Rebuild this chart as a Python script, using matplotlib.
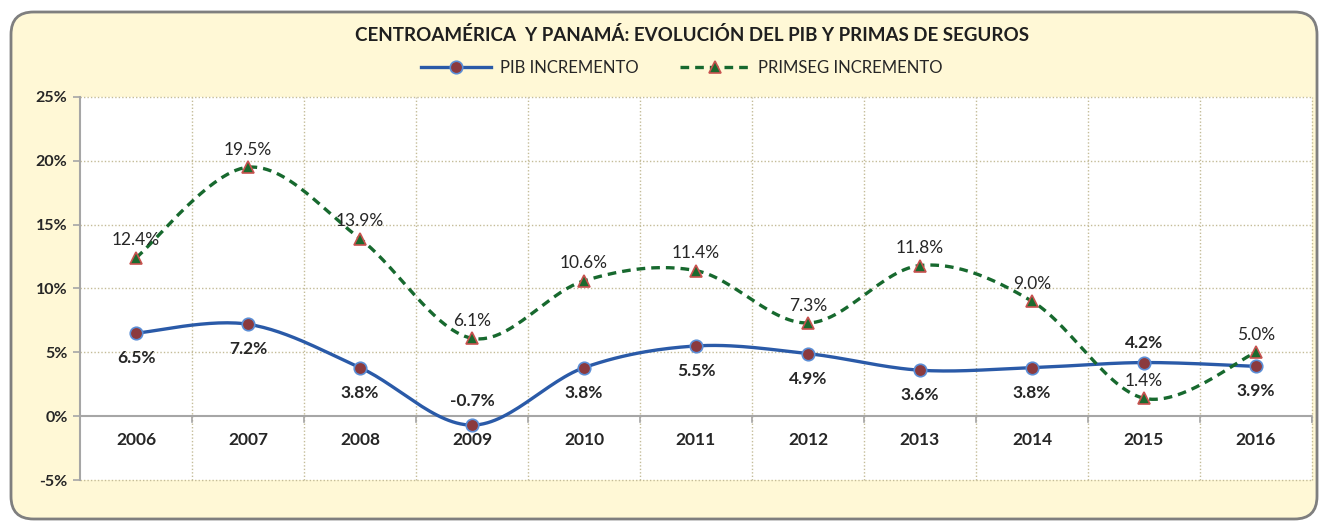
import numpy as np
import matplotlib
matplotlib.use("Agg")
import matplotlib.pyplot as plt
from matplotlib.patches import FancyBboxPatch
from matplotlib.lines import Line2D

plt.rcParams['font.family'] = ['Lato', 'DejaVu Sans']

years = ["2006", "2007", "2008", "2009", "2010", "2011", "2012", "2013", "2014", "2015", "2016"]
pib = [6.5, 7.2, 3.8, -0.7, 3.8, 5.5, 4.9, 3.6, 3.8, 4.2, 3.9]
primseg = [12.4, 19.5, 13.9, 6.1, 10.6, 11.4, 7.3, 11.8, 9.0, 1.4, 5.0]
yticks = [-5, 0, 5, 10, 15, 20, 25]
title = "CENTROAMÉRICA  Y PANAMÁ: EVOLUCIÓN DEL PIB Y PRIMAS DE SEGUROS"


def smooth(xs, ys, n=30):
    xs = np.asarray(xs, float)
    ys = np.asarray(ys, float)
    P = np.column_stack([xs, ys])
    Pext = np.vstack([P[0], P, P[-1]])
    out = []
    for i in range(len(P) - 1):
        p0, p1, p2, p3 = Pext[i], Pext[i + 1], Pext[i + 2], Pext[i + 3]
        c1 = p1 + (p2 - p0) / 6.0
        c2 = p2 - (p3 - p1) / 6.0
        t = np.linspace(0, 1, n)[:, None]
        seg = ((1 - t) ** 3) * p1 + 3 * ((1 - t) ** 2) * t * c1 + 3 * (1 - t) * t ** 2 * c2 + t ** 3 * p2
        out.append(seg if i == 0 else seg[1:])
    s = np.vstack(out)
    return s[:, 0], s[:, 1]


fig = plt.figure(figsize=(13.25, 5.23), dpi=100)
fig.patch.set_facecolor("white")
box = FancyBboxPatch((11 / 1325, 4 / 523), 1306 / 1325, 507 / 523,
                     boxstyle="round,pad=0,rounding_size=0.017",
                     transform=fig.transFigure, facecolor="#FFF8D6",
                     edgecolor="#7F7F7F", linewidth=2.0, zorder=-10,
                     mutation_aspect=1325 / 523)
fig.patches.append(box)

ax = fig.add_axes([80 / 1325, 1 - 480 / 523, 1232 / 1325, 383 / 523])
ax.set_zorder(5)
ax.set_facecolor("white")
x = np.arange(len(years))
ax.set_xlim(-0.5, len(years) - 0.5)
ax.set_ylim(-5, 25)

grid_c = "#C4BC98"
for yv in yticks:
    if yv != 0:
        ax.axhline(yv, color=grid_c, linestyle=(0, (1, 1.5)), linewidth=1.0, zorder=1, clip_on=False)
for xv in np.arange(-0.5, len(years) + 0.5, 1.0)[1:]:
    ax.axvline(xv, color=grid_c, linestyle=(0, (1, 1.5)), linewidth=1.0, zorder=1, clip_on=False)

ax.axhline(0, color="#A6A6A6", linewidth=1.5, zorder=2)
for xv in np.arange(0.5, len(years), 1.0):
    ax.plot([xv, xv], [0, -0.45], color="#A6A6A6", linewidth=1.2, zorder=2)
ax.plot([len(years) - 0.5] * 2, [0, -0.45], color="#A6A6A6", linewidth=1.2, zorder=2, clip_on=False)

for s in ["top", "right", "bottom"]:
    ax.spines[s].set_visible(False)
ax.spines["left"].set_color("#A6A6A6")
ax.spines["left"].set_linewidth(1.5)
ax.set_xticks([])
ax.set_yticks(yticks)
ax.set_yticklabels([f"{v}%" for v in yticks], fontsize=11.5, fontweight="bold", color="#262626")
ax.tick_params(axis="y", length=5, color="#A6A6A6", width=1.2, pad=4)

for xi, yl in zip(x, years):
    ax.text(xi, -1.9, yl, ha="center", va="center", fontsize=12.5, fontweight="bold", color="#262626")

sx, sy = smooth(x, pib)
ax.plot(sx, sy, color="#2A5AA8", linewidth=2.4, zorder=4, solid_capstyle="round")
ax.plot(x, pib, linestyle="none", marker="o", markersize=9, markerfacecolor="#8B3A3E",
        markeredgecolor="#5B8ED6", markeredgewidth=1.2, zorder=5)

sx2, sy2 = smooth(x, primseg)
ax.plot(sx2, sy2, color="#17692E", linewidth=2.4, linestyle=(0, (2.6, 1.8)), zorder=4)
ax.plot(x, primseg, linestyle="none", marker="^", markersize=9, markerfacecolor="#1B6A2E",
        markeredgecolor="#C8524F", markeredgewidth=1.2, zorder=5)

for i, (xi, v) in enumerate(zip(x, pib)):
    if years[i] == "2015":
        off = 14
    elif years[i] == "2009":
        off = 17
    else:
        off = -18
    ax.annotate(f"{v:.1f}%", (xi, v), xytext=(0, off), textcoords="offset points",
                ha="center", va="center", fontsize=12.5, fontweight="bold", color="#262626", zorder=6)
for xi, v in zip(x, primseg):
    ax.annotate(f"{v:.1f}%", (xi, v), xytext=(0, 12.5), textcoords="offset points",
                ha="center", va="center", fontsize=12.5, color="#262626", zorder=6)

fig.text(692 / 1325, 1 - 35 / 523, title, ha="center", va="center",
         fontsize=13.5, fontweight="bold", color="#1F1F1F")

h1 = Line2D([], [], color="#2A5AA8", linewidth=2.4, marker="o", markersize=9,
            markerfacecolor="#8B3A3E", markeredgecolor="#5B8ED6", markeredgewidth=1.2)
h2 = Line2D([], [], color="#17692E", linewidth=2.4, linestyle=(0, (2.6, 1.8)), marker="^",
            markersize=9, markerfacecolor="#1B6A2E", markeredgecolor="#C8524F", markeredgewidth=1.2)
fig.legend([h1, h2], ["PIB INCREMENTO", "PRIMSEG INCREMENTO"], loc="center",
           bbox_to_anchor=(682 / 1325, 1 - 68 / 523), ncol=2, frameon=False,
           fontsize=12, handlelength=4.2, columnspacing=2.5, handletextpad=0.5,
           labelcolor="#262626")

fig.savefig("out.png", dpi=100, facecolor="white")
